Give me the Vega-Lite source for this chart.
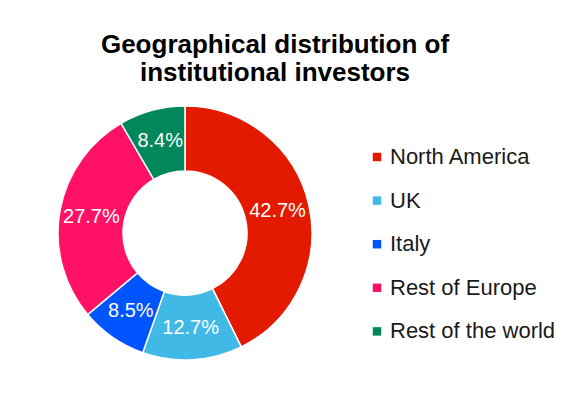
{
  "$schema": "https://vega.github.io/schema/vega-lite/v6.json",
  "width": 346,
  "height": 446,
  "autosize": {"type": "none"},
  "padding": {"left": 12, "top": 10, "right": 224, "bottom": 0},
  "background": "white",
  "config": {"view": {"stroke": null}},
  "title": {
    "text": ["Geographical distribution of", "institutional investors"],
    "font": "Liberation Sans",
    "fontSize": 26,
    "fontWeight": "bold",
    "color": "#000000",
    "lineHeight": 28,
    "anchor": "middle",
    "baseline": "top",
    "offset": 0,
    "limit": 500,
    "dx": 90,
    "dy": 76
  },
  "data": {
    "values": [
      {"region": "North America", "share": 42.7, "label": "42.7%"},
      {"region": "UK", "share": 12.7, "label": "12.7%"},
      {"region": "Italy", "share": 8.5, "label": "8.5%"},
      {"region": "Rest of Europe", "share": 27.7, "label": "27.7%"},
      {"region": "Rest of the world", "share": 8.4, "label": "8.4%"}
    ]
  },
  "encoding": {
    "theta": {"field": "share", "type": "quantitative", "stack": true},
    "order": {"field": "order", "type": "quantitative"}
  },
  "transform": [
    {"window": [{"op": "row_number", "as": "order"}]}
  ],
  "layer": [
    {
      "mark": {"type": "arc", "outerRadius": 127, "innerRadius": 62, "stroke": "white", "strokeWidth": 1.5},
      "encoding": {
        "color": {
          "field": "region",
          "type": "nominal",
          "sort": null,
          "scale": {
            "domain": ["North America", "UK", "Italy", "Rest of Europe", "Rest of the world"],
            "range": ["#E31A00", "#41B9E6", "#0055FF", "#FF1166", "#00875A"]
          },
          "legend": {
            "title": null,
            "orient": "none",
            "legendX": 354,
            "legendY": 136,
            "symbolType": "square",
            "symbolSize": 72,
            "symbolStrokeWidth": 0,
            "labelFont": "Liberation Sans",
            "labelFontSize": 22,
            "labelColor": "#1a1a1a",
            "labelOffset": 2,
            "rowPadding": 21.6,
            "labelLimit": 300
          }
        }
      }
    },
    {
      "mark": {"type": "text", "radius": 95, "font": "Liberation Sans", "fontSize": 20, "color": "white", "align": "center", "baseline": "middle"},
      "encoding": {
        "text": {"field": "label", "type": "nominal"}
      }
    }
  ]
}
